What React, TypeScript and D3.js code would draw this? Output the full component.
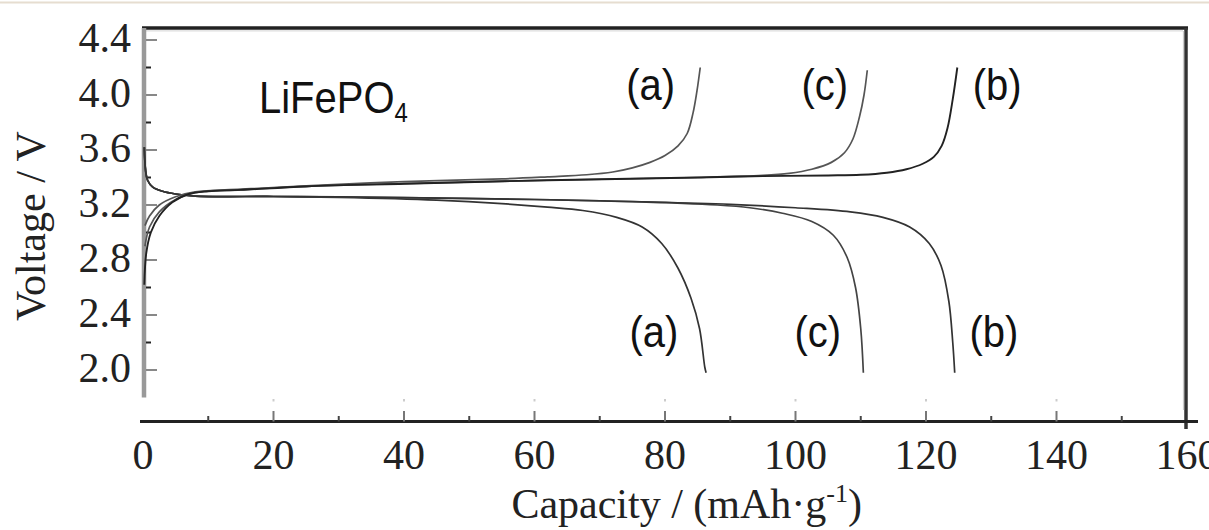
import React from "react";
import * as d3 from "d3";

// ---- data: [capacity mAh/g, voltage V] ----
const chargeA: [number, number][] = [
  [0.3, 3.05], [1, 3.12], [2.5, 3.2], [5, 3.26], [8, 3.295], [15, 3.315], [25, 3.34], [40, 3.37],
  [55, 3.39], [62, 3.405], [68, 3.42], [72, 3.44], [75, 3.47], [77.7, 3.51], [80, 3.56],
  [82, 3.63], [83.4, 3.72], [84.3, 3.87], [84.9, 4.03], [85.4, 4.2],
];
const chargeB: [number, number][] = [
  [0.2, 2.62], [0.5, 2.85], [1.2, 3.0], [2.5, 3.12], [4.5, 3.22], [7, 3.28], [10, 3.3], [15, 3.31],
  [25, 3.335], [40, 3.355], [62, 3.38], [85, 3.4], [95, 3.41], [105, 3.415], [110, 3.42],
  [114, 3.435], [117, 3.46], [119.5, 3.5], [121.2, 3.55], [122.4, 3.63], [123.3, 3.76],
  [124.1, 3.97], [124.8, 4.2],
];
const chargeC: [number, number][] = [
  [0.3, 2.9], [1, 3.04], [2.5, 3.15], [5, 3.24], [8, 3.29], [15, 3.31], [25, 3.335], [40, 3.355],
  [62, 3.38], [85, 3.4], [95, 3.415], [99, 3.43], [102.5, 3.46], [105.5, 3.51], [107.5, 3.58],
  [108.8, 3.68], [109.8, 3.84], [110.5, 4.0], [111, 4.18],
];
const dischargeA: [number, number][] = [
  [0.2, 3.62], [0.4, 3.45], [0.7, 3.38], [1.5, 3.33], [3, 3.3], [5, 3.28], [8, 3.265], [20, 3.262],
  [30, 3.255], [45, 3.235], [55, 3.21], [62, 3.185], [67.4, 3.16], [72.6, 3.11], [76.5, 3.04],
  [79.5, 2.92], [82, 2.74], [84, 2.52], [85.3, 2.3], [86.1, 2.02], [86.3, 1.98],
];
const dischargeB: [number, number][] = [
  [0.2, 3.62], [0.4, 3.45], [0.7, 3.38], [1.5, 3.33], [3, 3.3], [5, 3.28], [8, 3.265], [20, 3.262],
  [30, 3.26], [60, 3.24], [90, 3.205], [100, 3.18], [108.4, 3.15], [113.4, 3.11], [117.5, 3.04],
  [120.5, 2.92], [122.3, 2.76], [123.5, 2.5], [124.1, 2.2], [124.4, 1.98],
];
const dischargeC: [number, number][] = [
  [0.2, 3.62], [0.4, 3.45], [0.7, 3.38], [1.5, 3.33], [3, 3.3], [5, 3.28], [8, 3.265], [20, 3.262],
  [30, 3.258], [45, 3.25], [60, 3.24], [75, 3.225], [88, 3.2], [93, 3.18], [98, 3.14], [102.5, 3.08],
  [105.8, 2.98], [107.9, 2.82], [109.2, 2.6], [110, 2.3], [110.4, 1.98],
];

const xTicks = [0, 20, 40, 60, 80, 100, 120, 140, 160];
const xMinor = [10, 30, 50, 70, 90, 110, 130, 150];
const yTicks = [2.0, 2.4, 2.8, 3.2, 3.6, 4.0, 4.4];
const yMinor = [2.2, 2.6, 3.0, 3.4, 3.8, 4.2];

const topLabels = [
  { t: "(a)", c: 77.8 },
  { t: "(c)", c: 104.5 },
  { t: "(b)", c: 130.9 },
];
const bottomLabels = [
  { t: "(a)", c: 78.3 },
  { t: "(c)", c: 103.4 },
  { t: "(b)", c: 130.4 },
];

export default function App() {
  const W = 1209, H = 530;
  const x = d3.scaleLinear().domain([0, 160]).range([143, 1187]);
  const y = d3.scaleLinear().domain([2.0, 3.2]).range([370, 205]);
  const line = d3
    .line<[number, number]>()
    .x((d) => x(d[0]))
    .y((d) => y(d[1]))
    .curve(d3.curveCatmullRom.alpha(0.5));

  const serif = "'Liberation Serif', 'Times New Roman', serif";
  const sans = "'Liberation Sans', Arial, sans-serif";
  const series = [
    { d: dischargeA, c: "#333", w: 1.7 },
    { d: dischargeC, c: "#444", w: 1.7 },
    { d: dischargeB, c: "#333", w: 1.7 },
    { d: chargeA, c: "#555", w: 1.7 },
    { d: chargeC, c: "#555", w: 1.7 },
    { d: chargeB, c: "#222", w: 1.9 },
  ];
  const yTop = 28, yBot = y(1.8), xAxisY = 421.5;

  return (
    <svg
      width={W}
      height={H}
      style={{ position: "fixed", left: 0, top: 0, background: "#fff" }}
    >
      <rect x={0} y={0} width={W} height={H} fill="#fff" />
      <line x1={0} x2={W} y1={2.5} y2={2.5} stroke="#e6ddd0" strokeWidth={2} />

      {/* frame */}
      <line x1={142} x2={1188} y1={yTop} y2={yTop} stroke="#222" strokeWidth={3.5} />
      <line x1={146} x2={1183} y1={yTop + 2.8} y2={yTop + 2.8} stroke="#ddd" strokeWidth={1.2} />
      <line x1={1186} x2={1186} y1={yTop} y2={429} stroke="#333" strokeWidth={3.5} />
      <line x1={1183.5} x2={1183.5} y1={yTop + 3} y2={410} stroke="#ccc" strokeWidth={1.2} />
      <line x1={144} x2={144} y1={yTop} y2={yBot} stroke="#999" strokeWidth={4.5} />
      <line x1={140} x2={1198} y1={xAxisY} y2={xAxisY} stroke="#222" strokeWidth={3} />

      {/* y ticks */}
      {yTicks.map((v) => (
        <line key={"yt" + v} x1={146} x2={157} y1={y(v)} y2={y(v)} stroke="#888" strokeWidth={2} />
      ))}
      {yMinor.map((v) => (
        <line key={"ym" + v} x1={146} x2={151} y1={y(v)} y2={y(v)} stroke="#222" strokeWidth={2} />
      ))}
      {yTicks.map((v) => (
        <text
          key={"yl" + v}
          x={131}
          y={y(v) + 12}
          textAnchor="end"
          fontFamily={serif}
          fontSize={42}
          fill="#222"
        >
          {v.toFixed(1)}
        </text>
      ))}

      {/* x ticks */}
      {xTicks.slice(1, 8).map((v) => (
        <g key={"xt" + v}>
          <line x1={x(v)} x2={x(v)} y1={xAxisY} y2={411} stroke="#777" strokeWidth={2} />
          <line x1={x(v)} x2={x(v)} y1={399} y2={401.5} stroke="#ccc" strokeWidth={2} />
        </g>
      ))}
      {xMinor.map((v) => (
        <line key={"xm" + v} x1={x(v)} x2={x(v)} y1={xAxisY} y2={416} stroke="#444" strokeWidth={2} />
      ))}
      {xTicks.map((v) => (
        <text
          key={"xl" + v}
          x={x(v)}
          y={469}
          textAnchor="middle"
          fontFamily={serif}
          fontSize={42}
          fill="#222"
        >
          {v}
        </text>
      ))}

      {/* axis titles */}
      <text
        x={862}
        y={518}
        textAnchor="end"
        fontFamily={serif}
        fontSize={42}
        fill="#222"
      >
        Capacity / (mAh·g
        <tspan fontSize={26} dy={-16}>-1</tspan>
        <tspan dy={16}>)</tspan>
      </text>
      <text
        transform="translate(45,226) rotate(-90)"
        textAnchor="middle"
        fontFamily={serif}
        fontSize={42}
        fill="#222"
      >
        Voltage / V
      </text>

      {/* curves */}
      {series.map((s, i) => (
        <path key={"s" + i} d={line(s.d) || ""} fill="none" stroke={s.c} strokeWidth={s.w} />
      ))}

      {/* annotations */}
      <g transform="translate(259,113) scale(1,1.12)">
        <text x={0} y={0} fontFamily={sans} fontSize={40} fill="#111">
          LiFePO
          <tspan fontSize={24} dy={8}>4</tspan>
        </text>
      </g>
      {topLabels.map((l) => (
        <g key={"tl" + l.t} transform={`translate(${x(l.c)},100) scale(1,1.1)`}>
          <text textAnchor="middle" fontFamily={sans} fontSize={40} fill="#111">
            {l.t}
          </text>
        </g>
      ))}
      {bottomLabels.map((l) => (
        <g key={"bl" + l.t} transform={`translate(${x(l.c)},347) scale(1,1.1)`}>
          <text textAnchor="middle" fontFamily={sans} fontSize={40} fill="#111">
            {l.t}
          </text>
        </g>
      ))}
    </svg>
  );
}
